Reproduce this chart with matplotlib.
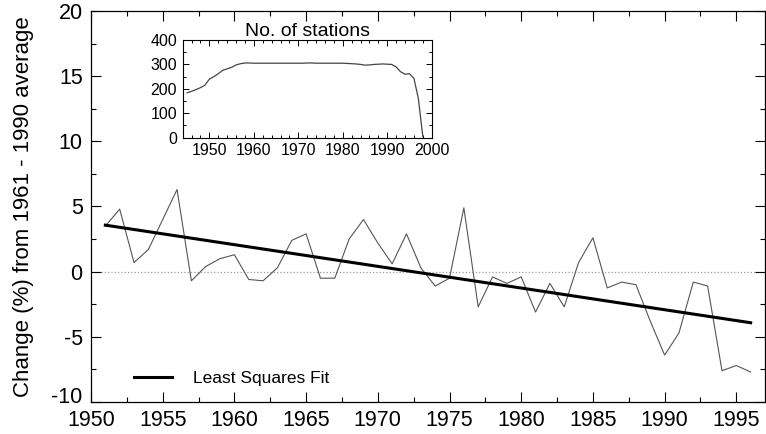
import matplotlib
matplotlib.use('Agg')
import matplotlib.pyplot as plt
from matplotlib.ticker import MultipleLocator
from matplotlib.transforms import ScaledTranslation
import numpy as np

plt.rcParams['font.family'] = ['Liberation Sans', 'DejaVu Sans']
plt.rcParams['axes.unicode_minus'] = False

# annual precipitation anomaly (% of 1961-1990 mean)
years = np.arange(1951, 1997)
change = [3.5, 4.8, 0.7, 1.7, 4.0, 6.3, -0.7, 0.4, 1.0, 1.3,
          -0.6, -0.7, 0.3, 2.4, 2.9, -0.5, -0.5, 2.5, 4.0, 2.2,
          0.6, 2.9, 0.3, -1.1, -0.5, 4.9, -2.7, -0.4, -0.9, -0.4,
          -3.1, -0.9, -2.7, 0.7, 2.6, -1.25, -0.8, -1.0, -3.8, -6.4,
          -4.7, -0.8, -1.1, -7.6, -7.2, -7.7]

# number of reporting stations per year
st_years = np.arange(1945, 1999)
stations = [184, 190, 197, 205, 215, 240, 250, 262, 276, 282,
            288, 298, 303, 306, 306, 305, 305, 305, 305, 305,
            305, 305, 305, 305, 305, 305, 305, 306, 306, 305,
            305, 305, 305, 305, 305, 305, 304, 303, 302, 300,
            297, 298, 300, 301, 302, 301, 300, 290, 270, 260,
            262, 243, 160, 5]

coef = np.polyfit(years, change, 1)
fit = coef[0]*years + coef[1]

fig = plt.figure(figsize=(7.66, 4.34), dpi=100)
ax = fig.add_axes([0.1188, 0.0737, 0.8799, 0.901])

ax.axhline(0, color='#9a9a9a', linestyle=':', linewidth=0.9, zorder=1)
ax.plot(years, change, color='#555555', linewidth=0.8, zorder=2)
ax.plot(years, fit, color='black', linewidth=2.2, label='Least Squares Fit', zorder=3)

ax.set_xlim(1950, 1997)
ax.set_ylim(-10, 20)
ax.xaxis.set_major_locator(MultipleLocator(5))
ax.xaxis.set_minor_locator(MultipleLocator(2.5))
ax.yaxis.set_major_locator(MultipleLocator(5))
ax.yaxis.set_minor_locator(MultipleLocator(2.5))
ax.tick_params(which='both', direction='in', top=True, right=True, width=0.8)
ax.tick_params(which='major', length=7, labelsize=15.5, pad=6)
ax.tick_params(which='minor', length=3.5)
for s in ax.spines.values():
    s.set_linewidth(0.9)

# lift the bottom y label a little so it clears the year labels
fig.canvas.draw()
for lab in ax.get_yticklabels():
    if lab.get_text() == '-10':
        lab.set_transform(lab.get_transform() + ScaledTranslation(0, 5/72, fig.dpi_scale_trans))

ax.set_ylabel('Change (%) from 1961 - 1990 average', fontsize=16)
ax.yaxis.set_label_coords(-0.085, 0.5)

ax.legend(loc='lower left', bbox_to_anchor=(0.04, 0.0), frameon=False,
          fontsize=12.5, handlelength=2.2, handletextpad=1.2)

# inset: station count
ins = fig.add_axes([0.2385, 0.6827, 0.3251, 0.2251])
ins.plot(st_years, stations, color='#444444', linewidth=0.9)
ins.set_xlim(1944, 2000)
ins.set_ylim(0, 400)
ins.xaxis.set_major_locator(MultipleLocator(10))
ins.xaxis.set_minor_locator(MultipleLocator(2))
ins.yaxis.set_major_locator(MultipleLocator(100))
ins.yaxis.set_minor_locator(MultipleLocator(50))
ins.tick_params(which='both', direction='in', top=True, right=True, width=0.7)
ins.tick_params(which='major', length=4, labelsize=11.5, pad=4)
ins.tick_params(which='minor', length=2)
for s in ins.spines.values():
    s.set_linewidth(0.8)
ins.set_title('No. of stations', fontsize=14, pad=3)

fig.savefig('out.png', dpi=100)
